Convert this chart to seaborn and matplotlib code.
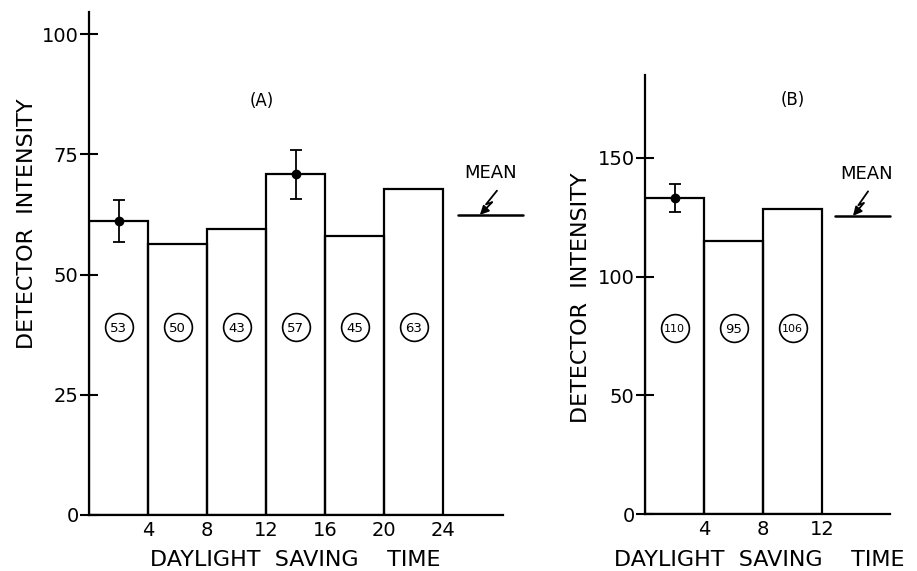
import numpy as np
import pandas as pd
import matplotlib
matplotlib.use("Agg")
import matplotlib.pyplot as plt
import seaborn as sns
from matplotlib.transforms import offset_copy

# ---- data ----
edges_A = [0, 4, 8, 12, 16, 20, 24]
intensity_A = [61.1, 56.3, 59.5, 70.8, 58.0, 67.7]
counts_A = [53, 50, 43, 57, 45, 63]
err_idx_A = [0, 3]
err_A = [4.3, 5.0]
mean_A = 62.4
xticks_A = [4, 8, 12, 16, 20, 24]
yticks_A = [0, 25, 50, 75, 100]

edges_B = [0, 4, 8, 12]
intensity_B = [133.2, 115.2, 128.4]
counts_B = [110, 95, 106]
err_idx_B = [0]
err_B = [5.8]
mean_B = 125.6
xticks_B = [4, 8, 12]
yticks_B = [0, 50, 100, 150]

sns.set_theme(style="white")
plt.rcParams['font.family'] = ['DejaVu Sans']
plt.rcParams['text.color'] = 'black'
plt.rcParams['axes.labelcolor'] = 'black'
plt.rcParams['xtick.color'] = 'black'
plt.rcParams['ytick.color'] = 'black'

W, H = 917, 571
fig = plt.figure(figsize=(W / 100, H / 100), dpi=100)

def px_axes(left, bottom_px, width, height):
    return fig.add_axes([left / W, (H - bottom_px) / H, width / W, height / H])

axA = px_axes(89, 515, 442.5, 505)
axB = px_axes(645, 514, 250.75, 451)

def panel(ax, edges, vals, counts, eidx, errs, mean, xticks, yticks,
          xlim, ylim, xspine, yspine, circ_y, tag, tag_xy, mean_x, mean_txt_xy, tip_x,
          xl_coords, yl_coords):
    e = np.array(edges, dtype=float)
    centers = (e[:-1] + e[1:]) / 2
    df = pd.DataFrame({"hour": centers, "val": vals})
    sns.histplot(data=df, x="hour", weights="val", bins=list(edges), fill=False,
                 color="black", linewidth=1.6, ax=ax)
    # error bars
    ex = centers[eidx]
    ey = np.array(vals)[eidx]
    ax.errorbar(ex, ey, yerr=errs, fmt="o", color="black", markersize=6,
                capsize=4, elinewidth=1.3, capthick=1.3, zorder=5)
    # circled counts
    ax.scatter(centers, [circ_y] * len(centers), s=400, facecolor="white",
               edgecolor="black", linewidth=1.2, zorder=4)
    for c, n in zip(centers, counts):
        s = str(n)
        ax.text(c, circ_y, s, ha="center", va="center_baseline",
                fontsize=9.5 if len(s) < 3 else 8, zorder=6)
    # mean line
    ax.plot(mean_x, [mean, mean], color="black", linewidth=1.8, clip_on=False)
    ax.text(mean_txt_xy[0], mean_txt_xy[1], "MEAN", ha="center", va="center", fontsize=13)
    # lightning arrow: offsets in points from tip
    pts = np.array([[14, 23], [5, 10], [10, 12], [0, 0]])
    trs = [offset_copy(ax.transData, fig=fig, x=p[0], y=p[1], units="points") for p in pts]
    disp = np.array([t.transform((tip_x, mean)) for t in trs])
    inv = ax.transData.inverted()
    dat = inv.transform(disp)
    ax.plot(dat[:3, 0], dat[:3, 1], color="black", linewidth=1.3, clip_on=False)
    ax.annotate("", xy=(dat[3, 0], dat[3, 1]), xytext=(dat[2, 0], dat[2, 1]),
                arrowprops=dict(arrowstyle="-|>", color="black", lw=1.3,
                                mutation_scale=13, shrinkA=0, shrinkB=0))
    ax.text(tag_xy[0], tag_xy[1], tag, ha="center", va="center", fontsize=12)

    ax.set_xlim(*xlim)
    ax.set_ylim(*ylim)
    ax.set_xticks(xticks)
    ax.set_xticklabels([str(t) for t in xticks])
    ax.set_yticks(yticks)
    ax.set_yticklabels([str(t) for t in yticks])
    ax.tick_params(axis="x", length=0, pad=4, labelsize=14)
    ax.tick_params(axis="y", direction="inout", length=13, width=1.5, pad=1,
                   labelsize=14, left=True, color="black")
    for s in ["top", "right"]:
        ax.spines[s].set_visible(False)
    for s in ["left", "bottom"]:
        ax.spines[s].set_color("black")
        ax.spines[s].set_linewidth(1.6)
    ax.spines["bottom"].set_bounds(0, xspine)
    ax.spines["left"].set_bounds(0, yspine)
    ax.set_xlabel("DAYLIGHT  SAVING    TIME", fontsize=16)
    ax.xaxis.set_label_coords(*xl_coords)
    ax.xaxis.label.set_va("center")
    ax.set_ylabel("DETECTOR  INTENSITY", fontsize=16)
    ax.yaxis.set_label_coords(*yl_coords)
    ax.yaxis.label.set_va("center")
    ax.patch.set_alpha(0)

panel(axA, edges_A, intensity_A, counts_A, err_idx_A, err_A, mean_A, xticks_A, yticks_A,
      (0, 30), (0, 105), 28.1, 104.6, 39.1, "(A)", (11.7, 86), [25.0, 29.4],
      (27.2, 71.1), 26.5, (0.466, -0.089), (-0.14, 0.576))
panel(axB, edges_B, intensity_B, counts_B, err_idx_B, err_B, mean_B, xticks_B, yticks_B,
      (0, 17), (0, 190), 16.6, 185, 78.4, "(B)", (10.0, 174.5), [12.9, 16.6],
      (15.05, 143.3), 14.1, (0.455, -0.102), (-0.255, 0.479))

fig.savefig("out.png", dpi=100, facecolor="white")
